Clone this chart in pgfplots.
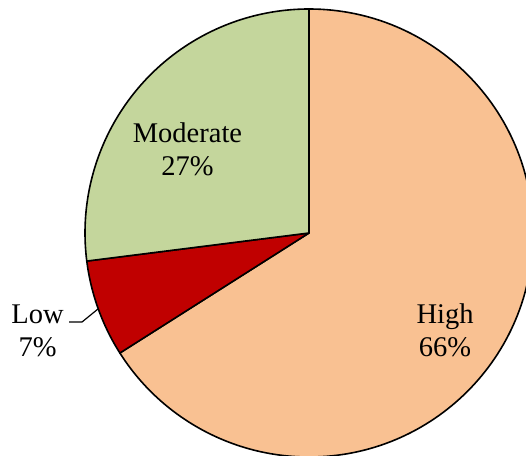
\documentclass[border=0pt]{standalone}
\usepackage{pgfplots}
\pgfplotsset{compat=1.18}
\usepackage{fontspec}
\setmainfont{Liberation Serif}
\definecolor{cHigh}{HTML}{F9C192}
\definecolor{cLow}{HTML}{C00000}
\definecolor{cMod}{HTML}{C4D69C}
\begin{document}
\begin{tikzpicture}
\useasboundingbox (0,0) rectangle (526pt,455pt);
\begin{axis}[
  at={(0,0)}, anchor=south west,
  x=1pt, y=1pt, scale only axis,
  xmin=0, xmax=526, ymin=0, ymax=455,
  hide axis, clip=true,
]
% data: share in percent (High, Low, Moderate), drawn clockwise from 12 o'clock
\pgfmathsetmacro{\vHigh}{66}
\pgfmathsetmacro{\vLow}{7}
\pgfmathsetmacro{\vMod}{27}
\pgfmathsetmacro{\aA}{90}
\pgfmathsetmacro{\aB}{90-3.6*\vHigh}
\pgfmathsetmacro{\aC}{\aB-3.6*\vLow}
\pgfmathsetmacro{\aD}{\aC-3.6*\vMod}
\def\R{224}
\filldraw[fill=cHigh, draw=black, line width=1.6pt, line join=round]
  (axis cs:309,222) -- ++(\aA:\R pt) arc[start angle=\aA, end angle=\aB, radius=\R pt] -- cycle;
\filldraw[fill=cLow, draw=black, line width=1.6pt, line join=round]
  (axis cs:309,222) -- ++(\aB:\R pt) arc[start angle=\aB, end angle=\aC, radius=\R pt] -- cycle;
\filldraw[fill=cMod, draw=black, line width=1.6pt, line join=round]
  (axis cs:309,222) -- ++(\aC:\R pt) arc[start angle=\aC, end angle=\aD, radius=\R pt] -- cycle;
% leader line for Low
\draw[black, line width=1.2pt] (axis cs:69,133) -- (axis cs:82,133) -- (axis cs:98,146);
\begin{scope}[every node/.style={font=\fontsize{28.5}{33}\selectfont, anchor=base, inner sep=0pt}]
\node at (axis cs:187.5,312.7) {Moderate};
\node at (axis cs:187.5,279.3) {27\%};
\node at (axis cs:445,132) {High};
\node at (axis cs:445,98.5) {66\%};
\node at (axis cs:37.5,132) {Low};
\node at (axis cs:37.5,98.5) {7\%};
\end{scope}
\end{axis}
\end{tikzpicture}
\end{document}
